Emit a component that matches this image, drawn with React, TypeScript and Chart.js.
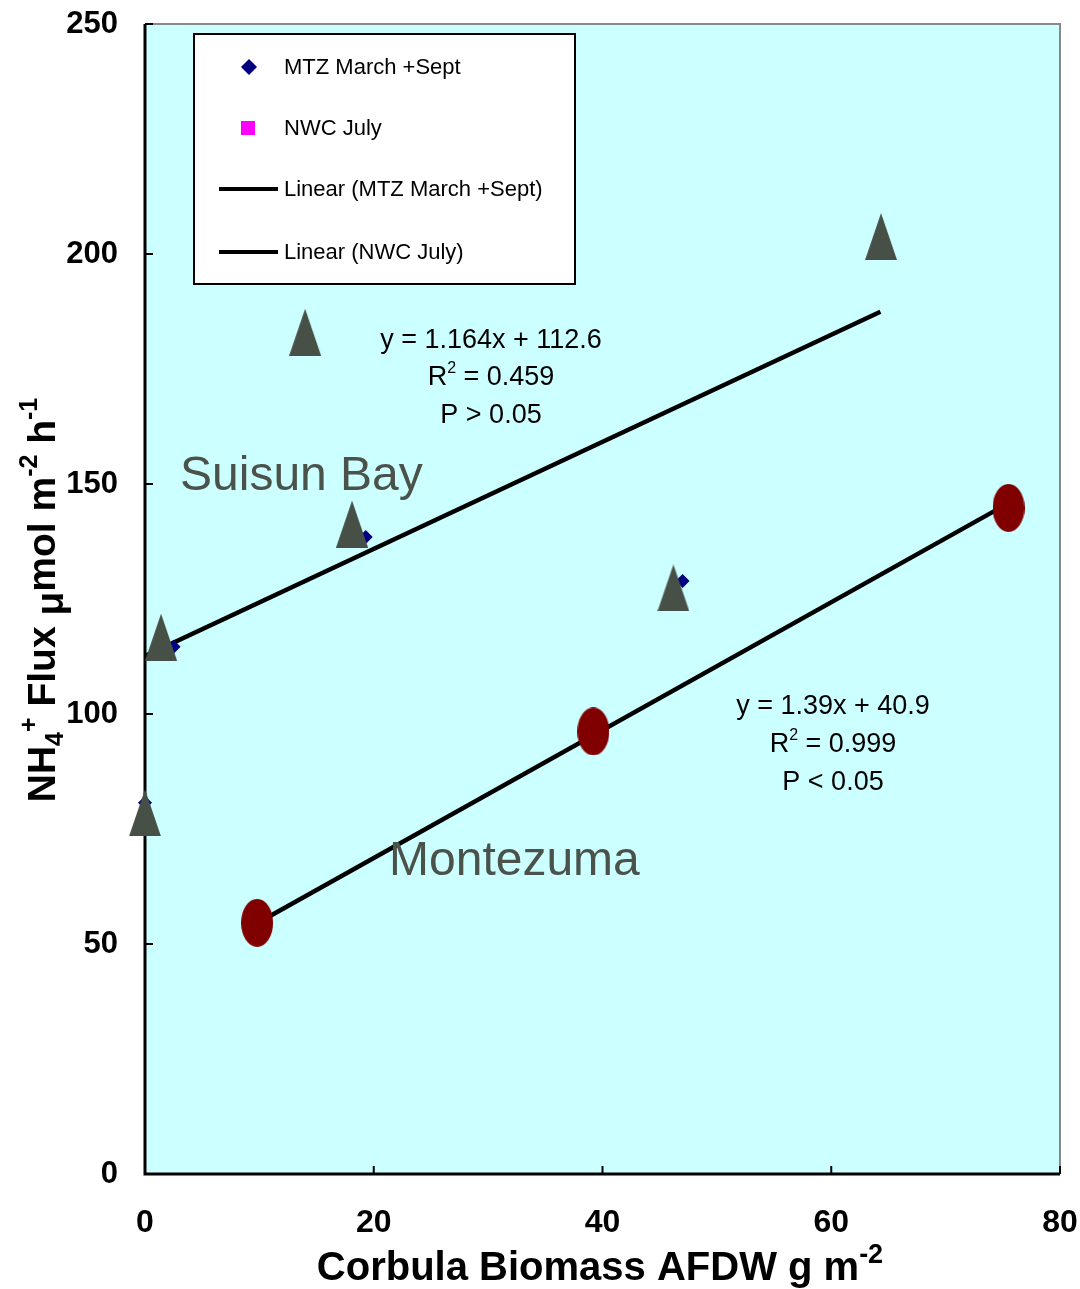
import React, { useEffect, useRef } from "react";
import { Chart, registerables } from "chart.js";

Chart.register(...registerables);

// Ammonium flux vs. Corbula biomass
const mtzBiomass = [0, 2.5, 14.0, 19.3, 47.0, 64.3];
const mtzFlux = [80.7, 114.6, 183.0, 138.5, 128.9, 203.8];

// Suisun Bay station markers (triangles drawn over the MTZ points)
const suisunBiomass = [0, 1.4, 14.0, 18.1, 46.2, 64.35];
const suisunFlux = [78.5, 116.7, 183.0, 141.3, 127.4, 203.8];

const nwcBiomass = [9.8, 39.2, 75.5];
const nwcFlux = [54.6, 96.2, 144.8];

// Linear fits: [slope, intercept]
const mtzFit = [1.164, 112.6];
const nwcFit = [1.39, 40.9];

const xTicks = [0, 20, 40, 60, 80];
const yTicks = [0, 50, 100, 150, 200, 250];

const FONT = "'Liberation Sans', Arial, sans-serif";
const MARKER_GREY = "#475047";

function fitLine(xs: number[], fit: number[]) {
  const lo = Math.min(...xs);
  const hi = Math.max(...xs);
  return [lo, hi].map((x) => ({ x, y: fit[0] * x + fit[1] }));
}

function makeTriangle() {
  const c = document.createElement("canvas");
  c.width = 32;
  c.height = 47;
  const g = c.getContext("2d")!;
  g.fillStyle = MARKER_GREY;
  g.beginPath();
  g.moveTo(16, 0);
  g.lineTo(32, 47);
  g.lineTo(0, 47);
  g.closePath();
  g.fill();
  return c;
}

function makeOval() {
  const c = document.createElement("canvas");
  c.width = 32;
  c.height = 48;
  const g = c.getContext("2d")!;
  g.fillStyle = "#800000";
  g.beginPath();
  g.ellipse(16, 24, 16, 24, 0, 0, Math.PI * 2);
  g.fill();
  return c;
}

type Seg = { t: string; size: number; dy: number; bold?: boolean };

function drawSegs(ctx: CanvasRenderingContext2D, segs: Seg[], cx: number, cy: number, bold: boolean) {
  let total = 0;
  const widths = segs.map((s) => {
    ctx.font = `${bold || s.bold ? "bold " : ""}${s.size}px ${FONT}`;
    const w = ctx.measureText(s.t).width;
    total += w;
    return w;
  });
  let x = cx - total / 2;
  segs.forEach((s, i) => {
    ctx.font = `${bold || s.bold ? "bold " : ""}${s.size}px ${FONT}`;
    ctx.fillText(s.t, x, cy + s.dy);
    x += widths[i];
  });
}

const decorations = {
  id: "decorations",
  beforeDatasetsDraw(chart: any) {
    const { ctx, chartArea: a } = chart;
    ctx.save();
    ctx.fillStyle = "#ccffff";
    ctx.fillRect(a.left, a.top, a.right - a.left, a.bottom - a.top);
    // top / right frame
    ctx.strokeStyle = "#888888";
    ctx.lineWidth = 2;
    ctx.beginPath();
    ctx.moveTo(a.left, a.top);
    ctx.lineTo(a.right, a.top);
    ctx.lineTo(a.right, a.bottom);
    ctx.stroke();
    // left / bottom axis lines
    ctx.strokeStyle = "#000";
    ctx.lineWidth = 3;
    ctx.beginPath();
    ctx.moveTo(a.left, a.top);
    ctx.lineTo(a.left, a.bottom);
    ctx.lineTo(a.right, a.bottom);
    ctx.stroke();
    ctx.restore();
  },
  afterDraw(chart: any) {
    const { ctx, chartArea: a, scales } = chart;
    ctx.save();

    // inward tick marks
    ctx.strokeStyle = "#000";
    ctx.lineWidth = 2;
    ctx.beginPath();
    yTicks.forEach((v) => {
      const y = scales.y.getPixelForValue(v);
      ctx.moveTo(a.left, y);
      ctx.lineTo(a.left + 8, y);
    });
    xTicks.forEach((v) => {
      const x = scales.x.getPixelForValue(v);
      ctx.moveTo(x, a.bottom);
      ctx.lineTo(x, a.bottom - 8);
    });
    ctx.stroke();

    ctx.fillStyle = "#000";
    ctx.textBaseline = "alphabetic";
    ctx.textAlign = "left";

    // x-axis title
    drawSegs(
      ctx,
      [
        { t: "Corbula Biomass AFDW g m", size: 40, dy: 0 },
        { t: "-2", size: 27, dy: -17 },
      ],
      600,
      1280,
      true
    );

    // y-axis title
    ctx.save();
    ctx.translate(55, 600);
    ctx.rotate(-Math.PI / 2);
    drawSegs(
      ctx,
      [
        { t: "NH", size: 39, dy: 0 },
        { t: "4", size: 25, dy: 8 },
        { t: "+", size: 25, dy: -18 },
        { t: " Flux ", size: 39, dy: 0 },
        { t: "\u03bc", size: 39, dy: 8 },
        { t: "mol m", size: 39, dy: 0 },
        { t: "-2", size: 25, dy: -18 },
        { t: " h", size: 39, dy: 0 },
        { t: "-1", size: 25, dy: -18 },
      ],
      0,
      0,
      true
    );
    ctx.restore();

    // regression annotations
    ctx.textBaseline = "middle";
    const eq = (lines: Seg[][], cx: number, ys: number[]) => {
      lines.forEach((segs, i) => drawSegs(ctx, segs, cx, ys[i], false));
    };
    eq(
      [
        [{ t: `y = ${mtzFit[0]}x + ${mtzFit[1]}`, size: 27, dy: 0 }],
        [
          { t: "R", size: 27, dy: 0 },
          { t: "2", size: 16, dy: -9 },
          { t: " = 0.459", size: 27, dy: 0 },
        ],
        [{ t: "P > 0.05", size: 27, dy: 0 }],
      ],
      491,
      [341, 378, 416]
    );
    eq(
      [
        [{ t: `y = ${nwcFit[0]}x + ${nwcFit[1]}`, size: 27, dy: 0 }],
        [
          { t: "R", size: 27, dy: 0 },
          { t: "2", size: 16, dy: -9 },
          { t: " = 0.999", size: 27, dy: 0 },
        ],
        [{ t: "P < 0.05", size: 27, dy: 0 }],
      ],
      833,
      [707, 745, 783]
    );

    // site labels
    ctx.fillStyle = "#4a524a";
    ctx.textAlign = "left";
    ctx.font = `48px ${FONT}`;
    ctx.fillText("Suisun Bay", 180, 477);
    ctx.fillText("Montezuma", 389, 862);

    // legend box
    ctx.fillStyle = "#ffffff";
    ctx.fillRect(194, 34, 381, 250);
    ctx.strokeStyle = "#000";
    ctx.lineWidth = 2;
    ctx.strokeRect(194, 34, 381, 250);

    const items = chart.data.datasets.filter((d: any) => d.inLegend);
    const rows = [67, 128, 189, 252];
    ctx.font = `22px ${FONT}`;
    ctx.textAlign = "left";
    ctx.textBaseline = "middle";
    items.forEach((d: any, i: number) => {
      const y = rows[i];
      if (d.legendKind === "diamond") {
        ctx.fillStyle = d.backgroundColor;
        ctx.beginPath();
        ctx.moveTo(249, y - 8);
        ctx.lineTo(257, y);
        ctx.lineTo(249, y + 8);
        ctx.lineTo(241, y);
        ctx.closePath();
        ctx.fill();
      } else if (d.legendKind === "square") {
        ctx.fillStyle = d.backgroundColor;
        ctx.fillRect(241, y - 7, 14, 14);
      } else {
        ctx.strokeStyle = d.borderColor;
        ctx.lineWidth = 4;
        ctx.beginPath();
        ctx.moveTo(219, y);
        ctx.lineTo(278, y);
        ctx.stroke();
      }
      ctx.fillStyle = "#000";
      ctx.fillText(d.label, 284, y + 1);
    });

    ctx.restore();
  },
};

const noOverflow = (s: any) => {
  s.paddingLeft = 0;
  s.paddingRight = 0;
  s.paddingTop = 0;
  s.paddingBottom = 0;
};

export default function App() {
  const ref = useRef<HTMLCanvasElement | null>(null);

  useEffect(() => {
    document.body.style.margin = "0";
    const canvas = ref.current;
    if (!canvas) return;
    const tri = makeTriangle();
    const oval = makeOval();

    const pts = (xs: number[], ys: number[]) => xs.map((x, i) => ({ x, y: ys[i] }));

    const chart = new Chart(canvas, {
      type: "scatter",
      data: {
        datasets: [
          {
            label: "MTZ March +Sept",
            data: pts(mtzBiomass, mtzFlux),
            pointStyle: "rectRot",
            pointRadius: 7,
            backgroundColor: "#000080",
            borderColor: "#000080",
            borderWidth: 0,
            clip: false,
            order: 3,
            inLegend: true,
            legendKind: "diamond",
          } as any,
          {
            label: "NWC July",
            data: pts(nwcBiomass, nwcFlux),
            pointStyle: "rect",
            pointRadius: 6,
            backgroundColor: "#ff00ff",
            borderColor: "#ff00ff",
            borderWidth: 0,
            clip: false,
            order: 2,
            inLegend: true,
            legendKind: "square",
          } as any,
          {
            label: "Linear (MTZ March +Sept)",
            data: fitLine(mtzBiomass, mtzFit),
            showLine: true,
            pointRadius: 0,
            borderColor: "#000",
            borderWidth: 4.5,
            order: 5,
            inLegend: true,
            legendKind: "line",
          } as any,
          {
            label: "Linear (NWC July)",
            data: fitLine(nwcBiomass, nwcFit),
            showLine: true,
            pointRadius: 0,
            borderColor: "#000",
            borderWidth: 4.5,
            order: 4,
            inLegend: true,
            legendKind: "line",
          } as any,
          {
            label: "Suisun Bay",
            data: pts(suisunBiomass, suisunFlux),
            pointStyle: tri,
            clip: false,
            order: 1,
          } as any,
          {
            label: "Montezuma",
            data: pts(nwcBiomass, nwcFlux),
            pointStyle: oval,
            clip: false,
            order: 0,
          } as any,
        ],
      },
      options: {
        responsive: false,
        animation: false,
        layout: { padding: { top: 24, right: 20, left: 0, bottom: 0 } },
        plugins: {
          legend: { display: false },
          tooltip: { enabled: false },
        },
        scales: {
          x: {
            type: "linear",
            min: 0,
            max: 80,
            afterFit: (s: any) => {
              s.height = 115;
              noOverflow(s);
            },
            afterBuildTicks: (s: any) => {
              s.ticks = xTicks.map((v) => ({ value: v }));
            },
            grid: { display: false, drawTicks: false },
            border: { display: false },
            ticks: {
              padding: 30,
              color: "#000",
              font: { family: FONT, size: 32, weight: "bold" },
            },
          },
          y: {
            type: "linear",
            min: 0,
            max: 250,
            afterFit: (s: any) => {
              s.width = 145;
              noOverflow(s);
            },
            afterBuildTicks: (s: any) => {
              s.ticks = yTicks.map((v) => ({ value: v }));
            },
            grid: { display: false, drawTicks: false },
            border: { display: false },
            ticks: {
              padding: 27,
              color: "#000",
              font: { family: FONT, size: 31, weight: "bold" },
            },
          },
        },
      } as any,
      plugins: [decorations],
    });

    return () => chart.destroy();
  }, []);

  return <canvas ref={ref} width={1080} height={1289} style={{ display: "block" }} />;
}
